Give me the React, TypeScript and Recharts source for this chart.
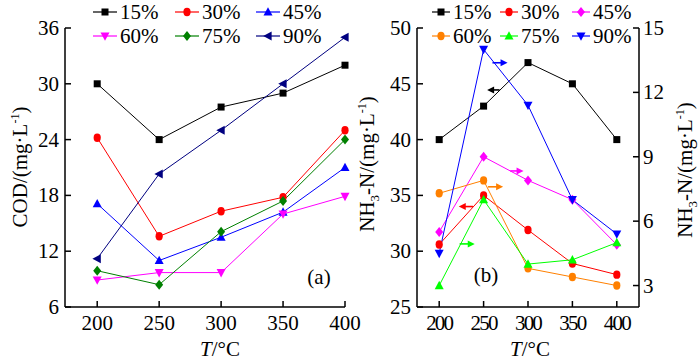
import React from 'react'
import { LineChart, Line, XAxis, YAxis, ReferenceLine, Customized } from 'recharts'

// temperatures (°C) and dilution ratios
const temps = [200, 250, 300, 350, 400]
const ratios = ['15%', '30%', '45%', '60%', '75%', '90%']

// (a) COD, mg/L
const cod15 = [30, 24, 27.5, 29, 32]
const cod30 = [24.2, 13.6, 16.3, 17.8, 25]
const cod45 = [17.1, 11, 13.5, 16.2, 21]
const cod60 = [8.9, 9.7, 9.7, 16, 17.9]
const cod75 = [9.9, 8.4, 14.1, 17.4, 24]
const cod90 = [11.2, 20.3, 25, 30, 35]

// (b) NH3-N, mg/L : 15% and 30% read on the left axis, the rest on the right axis
const nh15 = [40, 43, 46.9, 45, 40]
const nh30 = [30.6, 35, 31.9, 28.9, 27.9]
const nh45 = [5.5, 9, 7.9, 7, 4.9]
const nh60 = [7.3, 7.9, 3.8, 3.4, 3]
const nh75 = [3, 7, 4, 4.2, 5]
const nh90 = [4.5, 14, 11.4, 7, 5.4]

const codTicks = [6, 12, 18, 24, 30, 36]
const nhLeftTicks = [25, 30, 35, 40, 45, 50]
const nhRightTicks = [3, 6, 9, 12, 15]

// arrows in (b) telling which axis a series belongs to (data units)
const arrowX1 = [268, 238, 280, 255, 223, 260]
const arrowX2 = [254, 222, 295, 272, 240, 277]
const arrowY = [44.45, 34, 8.34, 7.6, 4.94, 13.38]

type Shape = 'square' | 'circle' | 'up' | 'down' | 'left' | 'diamond'

const codColors = ['#000000', '#ff0000', '#0000ff', '#ff00ff', '#008000', '#000080']
const codShapes: Shape[] = ['square', 'circle', 'up', 'down', 'diamond', 'left']
const nhColors = ['#000000', '#ff0000', '#ff00ff', '#ff8000', '#00ff00', '#0000ff']
const nhShapes: Shape[] = ['square', 'circle', 'diamond', 'circle', 'up', 'down']
const nhAxes = ['L', 'L', 'R', 'R', 'R', 'R']

const FONT = '"Liberation Serif", "Times New Roman", serif'

const codSeries = [cod15, cod30, cod45, cod60, cod75, cod90]
const nhSeries = [nh15, nh30, nh45, nh60, nh75, nh90]

const toRows = (series: number[][]) =>
  temps.map((t, i) => {
    const row: Record<string, number> = { t }
    series.forEach((s, k) => (row['s' + k] = s[i]))
    return row
  })

const codRows = toRows(codSeries)
const nhRows = toRows(nhSeries)

function Mark({ shape, cx, cy, color }: { shape: Shape; cx: number; cy: number; color: string }) {
  if (cx == null || cy == null) return null
  switch (shape) {
    case 'square':
      return <rect x={cx - 3.5} y={cy - 3.5} width={7} height={7} fill={color} />
    case 'circle':
      return <ellipse cx={cx} cy={cy} rx={3.6} ry={4.2} fill={color} />
    case 'up':
      return <polygon points={`${cx},${cy - 4.8} ${cx + 4.5},${cy + 3.6} ${cx - 4.5},${cy + 3.6}`} fill={color} />
    case 'down':
      return <polygon points={`${cx},${cy + 4.8} ${cx + 4.5},${cy - 3.6} ${cx - 4.5},${cy - 3.6}`} fill={color} />
    case 'left':
      return <polygon points={`${cx - 4.8},${cy} ${cx + 3.6},${cy - 4.5} ${cx + 3.6},${cy + 4.5}`} fill={color} />
    default:
      return <polygon points={`${cx},${cy - 5} ${cx + 4},${cy} ${cx},${cy + 5} ${cx - 4},${cy}`} fill={color} />
  }
}

const LeftTick = (p: any) => (
  <g>
    <line x1={p.x} y1={p.y} x2={p.x + 6} y2={p.y} stroke="#000" strokeWidth={1.5} />
    <text x={p.x - 6} y={p.y + 7} textAnchor="end" fontSize={21} fontFamily={FONT} fill="#000">
      {p.payload.value}
    </text>
  </g>
)

const RightTick = (p: any) => (
  <g>
    <line x1={p.x} y1={p.y} x2={p.x - 6} y2={p.y} stroke="#000" strokeWidth={1.5} />
    <text x={p.x + 4} y={p.y + 7} textAnchor="start" fontSize={21} fontFamily={FONT} fill="#000">
      {p.payload.value}
    </text>
  </g>
)

const makeBottomTick = (spacing: number) => (p: any) => (
  <g>
    <line x1={p.x} y1={p.y} x2={p.x} y2={p.y - 6} stroke="#000" strokeWidth={1.5} />
    <text
      x={p.x}
      y={p.y + 23}
      textAnchor="middle"
      fontSize={21}
      letterSpacing={spacing}
      fontFamily={FONT}
      fill="#000"
    >
      {p.payload.value}
    </text>
  </g>
)

function LegendBlock({ colX, lineLen, colors, shapes }: { colX: number[]; lineLen: number; colors: string[]; shapes: Shape[] }) {
  return (
    <g>
      {ratios.map((r, i) => {
        const x = colX[i % 3]
        const y = i < 3 ? 12 : 36
        return (
          <g key={r}>
            <line x1={x} y1={y} x2={x + lineLen} y2={y} stroke={colors[i]} strokeWidth={1.2} />
            <Mark shape={shapes[i]} cx={x + lineLen / 2} cy={y} color={colors[i]} />
            <text x={x + lineLen + 3} y={y + 7} fontSize={21} fontFamily={FONT} fill="#000">
              {r}
            </text>
          </g>
        )
      })}
    </g>
  )
}

const unitLabel = (x: number, y: number, nh: boolean) => (
  <text x={x} y={y} transform={`rotate(-90 ${x} ${y})`} textAnchor="middle" fontSize={21} fontFamily={FONT} fill="#000">
    {nh ? (
      <>
        NH<tspan dy={5} fontSize={13}>3</tspan>
        <tspan dy={-5}>-N/(mg·L</tspan>
      </>
    ) : (
      'COD/(mg·L'
    )}
    <tspan dy={-8} fontSize={12}>-1</tspan>
    <tspan dy={8}>)</tspan>
  </text>
)

const tLabel = (x: number) => (
  <text x={x} y={356} textAnchor="middle" fontSize={21} fontFamily={FONT} fill="#000">
    <tspan fontStyle="italic">T</tspan>/°C
  </text>
)

const CodOverlay = () => (
  <g>
    <LegendBlock colX={[93, 175, 256]} lineLen={24} colors={codColors} shapes={codShapes} />
    {unitLabel(27, 167, false)}
    {tLabel(220)}
    <text x={319} y={284} textAnchor="middle" fontSize={21} fontFamily={FONT} fill="#000">
      (a)
    </text>
  </g>
)

const NhOverlay = () => (
  <g>
    <LegendBlock colX={[82, 150, 222]} lineLen={18} colors={nhColors} shapes={nhShapes} />
    {unitLabel(24, 164, true)}
    {unitLabel(342, 170, true)}
    {tLabel(180)}
    <text x={136} y={282} textAnchor="middle" fontSize={21} fontFamily={FONT} fill="#000">
      (b)
    </text>
  </g>
)

const arrowShape = (color: string) => (p: any) => {
  const { x1, y1, x2, y2 } = p
  const dir = x2 > x1 ? 1 : -1
  return (
    <g>
      <line x1={x1} y1={y1} x2={x2 - dir * 4} y2={y2} stroke={color} strokeWidth={1.6} />
      <polygon points={`${x2},${y2} ${x2 - dir * 7},${y2 - 3.5} ${x2 - dir * 7},${y2 + 3.5}`} fill={color} />
    </g>
  )
}

const axisStyle = { stroke: '#000', strokeWidth: 1.5 }

export default function App() {
  return (
    <div style={{ position: 'absolute', left: 0, top: 0, width: 700, height: 362, background: '#fff' }}>
      <div style={{ position: 'absolute', left: 0, top: 0 }}>
        <LineChart width={368} height={362} data={codRows} margin={{ top: 28, right: 23, bottom: 25, left: 20 }}>
          <XAxis
            dataKey="t"
            type="number"
            domain={[174, 400]}
            ticks={temps}
            height={30}
            axisLine={axisStyle}
            tickLine={false}
            tickSize={0}
            tickMargin={0}
            tick={makeBottomTick(0)}
          />
          <YAxis
            type="number"
            domain={[6, 36]}
            ticks={codTicks}
            width={45}
            axisLine={axisStyle}
            tickLine={false}
            tickSize={0}
            tickMargin={0}
            tick={LeftTick}
          />
          {codSeries.map((_, k) => (
            <Line
              key={k}
              dataKey={'s' + k}
              stroke={codColors[k]}
              strokeWidth={1}
              isAnimationActive={false}
              dot={(p: any) => <Mark key={p.index} shape={codShapes[k]} cx={p.cx} cy={p.cy} color={codColors[k]} />}
            />
          ))}
          <Customized component={CodOverlay} />
        </LineChart>
      </div>
      <div style={{ position: 'absolute', left: 350, top: 0 }}>
        <LineChart width={350} height={362} data={nhRows} margin={{ top: 28, right: 21, bottom: 25, left: 22 }}>
          <XAxis
            dataKey="t"
            type="number"
            domain={[175, 425]}
            ticks={temps}
            height={30}
            axisLine={axisStyle}
            tickLine={false}
            tickSize={0}
            tickMargin={0}
            tick={makeBottomTick(-1.8)}
          />
          <YAxis
            yAxisId="L"
            type="number"
            domain={[25, 50]}
            ticks={nhLeftTicks}
            width={45}
            axisLine={axisStyle}
            tickLine={false}
            tickSize={0}
            tickMargin={0}
            tick={LeftTick}
          />
          <YAxis
            yAxisId="R"
            orientation="right"
            type="number"
            domain={[2, 15]}
            ticks={nhRightTicks}
            width={40}
            axisLine={axisStyle}
            tickLine={false}
            tickSize={0}
            tickMargin={0}
            tick={RightTick}
          />
          {nhSeries.map((_, k) => (
            <Line
              key={k}
              yAxisId={nhAxes[k]}
              dataKey={'s' + k}
              stroke={nhColors[k]}
              strokeWidth={1}
              isAnimationActive={false}
              dot={(p: any) => <Mark key={p.index} shape={nhShapes[k]} cx={p.cx} cy={p.cy} color={nhColors[k]} />}
            />
          ))}
          {nhSeries.map((_, k) => (
            <ReferenceLine
              key={'a' + k}
              yAxisId={nhAxes[k]}
              segment={[
                { x: arrowX1[k], y: arrowY[k] },
                { x: arrowX2[k], y: arrowY[k] },
              ]}
              stroke={nhColors[k]}
              shape={arrowShape(nhColors[k])}
            />
          ))}
          <Customized component={NhOverlay} />
        </LineChart>
      </div>
    </div>
  )
}
